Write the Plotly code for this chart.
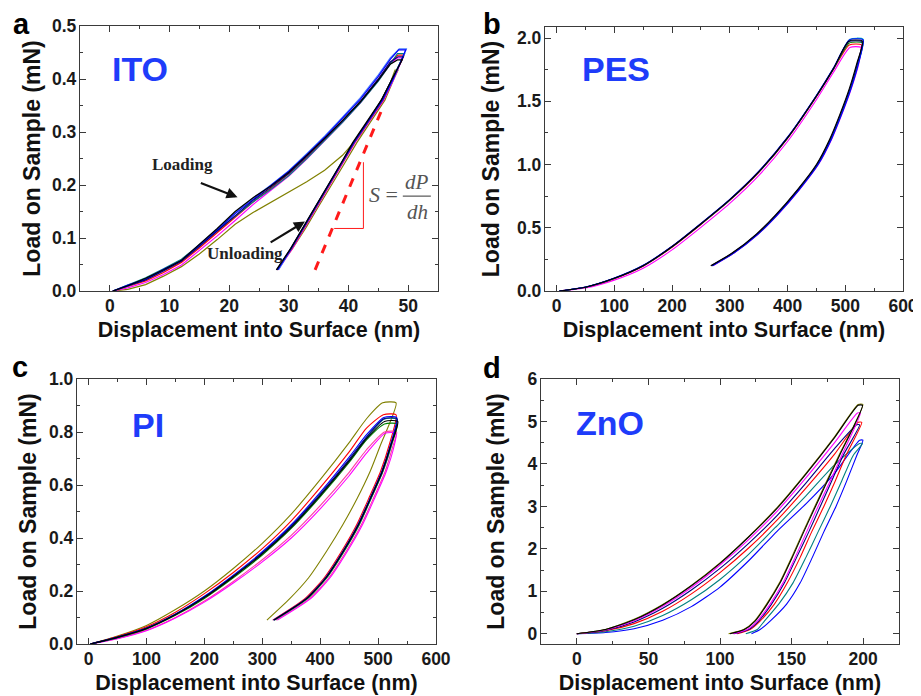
import plotly.graph_objects as go

# The page body keeps the browser's 8 px margin, so the figure is drawn 8 px in
# from the window corner; positions below are page pixels of the 921x696 window.
PAGE_W, PAGE_H = 921, 696
OFFSET = 8
W, H = PAGE_W - OFFSET, PAGE_H - OFFSET
SANS = "Liberation Sans, Arial, sans-serif"
SERIF = "Liberation Serif, 'Times New Roman', serif"
LABEL_BLUE = "#1e3cfa"
FRAME = "#3a3a3a"

COLORS = {
    "black": "#000000", "red": "#ff0000", "blue": "#0000ff", "magenta": "#ff00ff",
    "olive": "#808000", "navy": "#000080", "teal": "#008080", "lightblue": "#4a7fff",
    "cyan": "#00b0c0", "green": "#008000", "pink": "#ff3ca0",
}

# ---------------- panel a : ITO ----------------
ITO_NAMES = ["olive", "magenta", "red", "teal", "lightblue", "blue", "navy", "black"]
ITO_LOAD_X = [0.5, 3, 6, 9, 12, 15, 18, 21, 24, 27, 30, 33, 36, 39, 42, 45, 47]
ITO_LOAD_Y = [
    [0, 0.003, 0.012, 0.028, 0.046, 0.070, 0.097, 0.126, 0.148, 0.167, 0.187, 0.206, 0.228, 0.256, 0.295, 0.350, 0.393],
    [0, 0.006, 0.016, 0.031, 0.049, 0.076, 0.104, 0.133, 0.163, 0.190, 0.217, 0.249, 0.283, 0.318, 0.355, 0.397, 0.428],
    [0, 0.008, 0.019, 0.035, 0.054, 0.081, 0.110, 0.140, 0.168, 0.194, 0.221, 0.252, 0.286, 0.320, 0.357, 0.400, 0.431],
    [0, 0.012, 0.025, 0.042, 0.060, 0.087, 0.114, 0.142, 0.168, 0.192, 0.218, 0.250, 0.284, 0.318, 0.355, 0.396, 0.428],
    [0, 0.009, 0.022, 0.039, 0.058, 0.087, 0.117, 0.148, 0.175, 0.200, 0.227, 0.259, 0.292, 0.328, 0.365, 0.408, 0.440],
    [0, 0.011, 0.022, 0.041, 0.057, 0.086, 0.115, 0.146, 0.173, 0.199, 0.226, 0.257, 0.290, 0.326, 0.362, 0.405, 0.437],
    [0, 0.010, 0.021, 0.038, 0.056, 0.084, 0.113, 0.143, 0.171, 0.196, 0.222, 0.254, 0.287, 0.321, 0.358, 0.400, 0.432],
    [0, 0.010, 0.024, 0.040, 0.058, 0.088, 0.118, 0.150, 0.176, 0.198, 0.224, 0.256, 0.288, 0.322, 0.357, 0.398, 0.428],
]
ITO_PEAK_START = [47.8, 48.2, 48.3, 48.2, 48.5, 48.4, 48.3, 48.2]
ITO_PEAK_END = [48.3, 49.1, 49.3, 49.4, 49.7, 49.6, 49.2, 49.0]
ITO_PEAK_LOAD = [0.417, 0.440, 0.445, 0.448, 0.457, 0.455, 0.442, 0.436]
ITO_UNLOAD_Y = [0.40, 0.36, 0.32, 0.28, 0.24, 0.20, 0.16, 0.12, 0.08, 0.04]
ITO_UNLOAD_X = [
    [47.6, 46.1, 43.8, 41.4, 39.3, 37.1, 35.0, 32.9, 30.6, 28.0],
    [47.6, 45.9, 43.5, 41.1, 39.0, 36.9, 34.9, 32.8, 30.6, 28.2],
    [47.5, 45.8, 43.4, 41.0, 38.9, 36.8, 34.8, 32.7, 30.5, 28.1],
    [47.4, 45.6, 43.3, 40.9, 38.8, 36.7, 34.7, 32.6, 30.4, 28.2],
    [47.5, 45.7, 43.3, 40.9, 38.8, 36.7, 34.7, 32.6, 30.4, 28.3],
    [47.5, 45.7, 43.3, 40.9, 38.8, 36.7, 34.7, 32.6, 30.4, 28.1],
    [47.3, 45.5, 43.2, 40.8, 38.7, 36.6, 34.6, 32.5, 30.3, 28.0],
    [47.3, 45.5, 43.1, 40.7, 38.7, 36.6, 34.6, 32.5, 30.3, 27.9],
]
ITO_TANGENT_X = [34.4, 45.8]
ITO_TANGENT_Y = [0.04, 0.348]
ITO_TRIANGLE_X = [37.6, 42.5, 42.5]
ITO_TRIANGLE_Y = [0.118, 0.118, 0.243]
ITO_FRACTION_X = [49.1, 53.8]
ITO_FRACTION_Y = [0.179, 0.179]

# ---------------- panel b : PES ----------------
PES_NAMES = ["magenta", "red", "green", "cyan", "blue", "navy", "black"]
PES_LOAD_X = [5, 50, 100, 150, 200, 250, 300, 350, 400, 450, 480]
PES_LOAD_Y = [
    [0, 0.024, 0.086, 0.180, 0.325, 0.503, 0.692, 0.912, 1.182, 1.512, 1.732],
    [0, 0.029, 0.097, 0.196, 0.346, 0.526, 0.716, 0.936, 1.206, 1.536, 1.756],
    [0, 0.030, 0.099, 0.199, 0.349, 0.529, 0.719, 0.939, 1.209, 1.539, 1.759],
    [0, 0.030, 0.101, 0.201, 0.351, 0.531, 0.721, 0.941, 1.212, 1.542, 1.762],
    [0, 0.031, 0.102, 0.203, 0.354, 0.535, 0.725, 0.946, 1.216, 1.546, 1.766],
    [0, 0.030, 0.100, 0.200, 0.352, 0.532, 0.722, 0.943, 1.213, 1.543, 1.763],
    [0, 0.030, 0.100, 0.200, 0.350, 0.530, 0.720, 0.940, 1.210, 1.540, 1.760],
]
PES_PEAK_START = [508, 507, 507, 508, 507, 506, 506]
PES_PEAK_END = [527, 528, 530, 531, 531, 529, 530]
PES_PEAK_LOAD = [1.925, 1.945, 1.960, 1.990, 1.985, 1.970, 1.975]
PES_UNLOAD_Y = [1.80, 1.60, 1.40, 1.20, 1.00, 0.80, 0.60, 0.45, 0.30, 0.20]
PES_UNLOAD_X = [
    [523.5, 510.5, 494.5, 476.5, 453.5, 420.5, 382.5, 349.5, 307.5, 271],
    [521.5, 508.5, 492.5, 474.5, 451.5, 418.5, 380.5, 347.5, 305.5, 268.5],
    [522, 509, 493, 475, 452, 419, 381, 348, 306, 269],
    [522.5, 509.5, 493.5, 475.5, 452.5, 419.5, 381.5, 348.5, 306.5, 269.5],
    [523, 510, 494, 476, 453, 420, 382, 349, 307, 270],
    [521, 508, 492, 474, 451, 418, 380, 347, 305, 268],
    [520, 507, 491, 473, 450, 417, 379, 346, 304, 267],
]

# ---------------- panel c : PI ----------------
PI_NAMES = ["olive", "red", "pink", "magenta", "green", "teal", "blue", "navy", "black"]
PI_LOAD_X = [3, 50, 100, 150, 200, 250, 300, 350, 400, 450, 480]
PI_LOAD_Y = [
    [0, 0.030, 0.070, 0.130, 0.200, 0.285, 0.380, 0.490, 0.620, 0.760, 0.850],
    [0, 0.028, 0.065, 0.120, 0.190, 0.270, 0.360, 0.465, 0.590, 0.725, 0.815],
    [0, 0.021, 0.052, 0.100, 0.162, 0.236, 0.318, 0.410, 0.522, 0.648, 0.733],
    [0, 0.020, 0.050, 0.098, 0.158, 0.230, 0.310, 0.400, 0.510, 0.635, 0.720],
    [0, 0.024, 0.057, 0.108, 0.172, 0.250, 0.336, 0.436, 0.555, 0.685, 0.770],
    [0, 0.025, 0.059, 0.111, 0.176, 0.255, 0.341, 0.442, 0.562, 0.692, 0.778],
    [0, 0.026, 0.060, 0.113, 0.180, 0.260, 0.348, 0.450, 0.572, 0.705, 0.790],
    [0, 0.026, 0.060, 0.112, 0.178, 0.257, 0.344, 0.445, 0.566, 0.697, 0.782],
    [0, 0.025, 0.058, 0.110, 0.175, 0.254, 0.340, 0.440, 0.560, 0.690, 0.775],
]
PI_PEAK_START = [508, 509, 511, 512, 511, 510, 510, 510, 511]
PI_PEAK_END = [531, 531, 532, 531, 533, 532, 532, 533, 534]
PI_PEAK_LOAD = [0.910, 0.865, 0.800, 0.795, 0.830, 0.848, 0.855, 0.850, 0.840]
PI_UNLOAD_Y = [0.75, 0.65, 0.55, 0.45, 0.35, 0.25, 0.17, 0.09]
PI_UNLOAD_X = [
    [504, 486, 464, 439, 411, 380, 347, 308],
    [519, 504, 484, 463, 437, 407, 373, 318],
    [526, 512, 492, 471, 445, 415, 381, 324],
    [528, 514, 494, 473, 447, 417, 383, 326],
    [523, 508, 488, 467.5, 441.5, 411.5, 377.5, 321],
    [523, 508, 488, 467, 441, 411, 377, 321],
    [521, 506, 486, 465, 439, 409, 375, 319],
    [522, 507, 487, 466, 440, 410, 376, 320],
    [522, 507, 487, 466, 440, 410, 376, 320],
]

# ---------------- panel d : ZnO ----------------
ZNO_NAMES = ["blue", "teal", "red", "navy", "magenta", "olive", "black"]
ZNO_LOAD_X = [0, 20, 40, 60, 80, 100, 120, 140, 160, 180]
ZNO_LOAD_Y = [
    [0, 0.03, 0.12, 0.32, 0.64, 1.10, 1.72, 2.42, 3.06, 3.78],
    [0, 0.05, 0.18, 0.43, 0.80, 1.28, 1.87, 2.55, 3.25, 3.98],
    [0, 0.07, 0.24, 0.53, 0.94, 1.44, 2.02, 2.68, 3.43, 4.23],
    [0, 0.08, 0.28, 0.60, 1.03, 1.54, 2.13, 2.79, 3.55, 4.36],
    [0, 0.09, 0.31, 0.65, 1.09, 1.62, 2.22, 2.89, 3.67, 4.50],
    [0, 0.10, 0.34, 0.69, 1.14, 1.67, 2.29, 2.98, 3.78, 4.64],
    [0, 0.10, 0.33, 0.68, 1.13, 1.66, 2.28, 2.96, 3.76, 4.62],
]
ZNO_PEAK_START = [197.5, 197.5, 196.5, 195.5, 196.0, 196.5, 196.5]
ZNO_PEAK_END = [199.8, 199.5, 199.0, 197.5, 198.0, 199.8, 199.5]
ZNO_PEAK_LOAD = [4.56, 4.48, 4.98, 4.92, 5.20, 5.40, 5.38]
ZNO_UNLOAD_Y = [4.2, 3.6, 3.0, 2.4, 1.8, 1.2, 0.7, 0.3, 0.1, 0.0]
ZNO_UNLOAD_X = [
    [195.5, 188.5, 181, 172.5, 164.5, 156, 146.5, 135, 128, 122],
    [193, 185, 177, 168.5, 160, 151, 141, 131, 126, 118],
    [188, 180.5, 172.5, 164, 156, 147, 138, 128, 121, 112],
    [186, 178, 170, 162, 153.5, 145, 136, 127, 120, 110],
    [185, 177, 168.5, 160.5, 152.5, 144, 135, 126, 119, 109],
    [183, 174.5, 166.2, 158, 150, 141.5, 132.5, 124, 116.5, 106],
    [183.5, 175, 166.7, 158.5, 150.5, 142, 133, 124.5, 117, 107],
]

# ---------------- axes: ranges and ticks ----------------
ITO_XTICKS, ITO_XLABELS = [0, 10, 20, 30, 40, 50], ["0", "10", "20", "30", "40", "50"]
ITO_YTICKS, ITO_YLABELS = [0, 0.1, 0.2, 0.3, 0.4, 0.5], ["0.0", "0.1", "0.2", "0.3", "0.4", "0.5"]
PES_XTICKS, PES_XLABELS = [0, 100, 200, 300, 400, 500, 600], ["0", "100", "200", "300", "400", "500", "600"]
PES_YTICKS, PES_YLABELS = [0, 0.5, 1.0, 1.5, 2.0], ["0.0", "0.5", "1.0", "1.5", "2.0"]
PI_XTICKS, PI_XLABELS = [0, 100, 200, 300, 400, 500, 600], ["0", "100", "200", "300", "400", "500", "600"]
PI_YTICKS, PI_YLABELS = [0, 0.2, 0.4, 0.6, 0.8, 1.0], ["0.0", "0.2", "0.4", "0.6", "0.8", "1.0"]
ZNO_XTICKS, ZNO_XLABELS = [0, 50, 100, 150, 200], ["0", "50", "100", "150", "200"]
ZNO_YTICKS, ZNO_YLABELS = [0, 1, 2, 3, 4, 5, 6], ["0", "1", "2", "3", "4", "5", "6"]

# panel frames in page pixels: left, right, top, bottom
FRAMES = {
    "a": (80, 438, 26, 291),
    "b": (545, 903, 27, 291),
    "c": (77, 436, 379, 644),
    "d": (541, 899, 379, 644),
}


def add_curves(fig, axis, names, load_x, load_y, p0, p1, pk, unload_y, unload_x,
               width=1.1, shape="spline"):
    for i, name in enumerate(names):
        xs = list(load_x) + [p0[i], p1[i]] + list(unload_x[i])
        ys = list(load_y[i]) + [pk[i], pk[i]] + list(unload_y)
        fig.add_trace(go.Scatter(
            x=xs, y=ys, mode="lines", xaxis="x" + axis, yaxis="y" + axis,
            line=dict(color=COLORS[name], width=width, shape=shape, smoothing=0.6),
            showlegend=False, hoverinfo="skip",
        ))


fig = go.Figure()
add_curves(fig, "", ITO_NAMES, ITO_LOAD_X, ITO_LOAD_Y, ITO_PEAK_START, ITO_PEAK_END,
           ITO_PEAK_LOAD, ITO_UNLOAD_Y, ITO_UNLOAD_X, width=1.2, shape="linear")
add_curves(fig, "2", PES_NAMES, PES_LOAD_X, PES_LOAD_Y, PES_PEAK_START, PES_PEAK_END,
           PES_PEAK_LOAD, PES_UNLOAD_Y, PES_UNLOAD_X)
add_curves(fig, "3", PI_NAMES, PI_LOAD_X, PI_LOAD_Y, PI_PEAK_START, PI_PEAK_END,
           PI_PEAK_LOAD, PI_UNLOAD_Y, PI_UNLOAD_X)
add_curves(fig, "4", ZNO_NAMES, ZNO_LOAD_X, ZNO_LOAD_Y, ZNO_PEAK_START, ZNO_PEAK_END,
           ZNO_PEAK_LOAD, ZNO_UNLOAD_Y, ZNO_UNLOAD_X)

# stiffness construction on the ITO panel
fig.add_trace(go.Scatter(x=ITO_TANGENT_X, y=ITO_TANGENT_Y, mode="lines", showlegend=False,
                         line=dict(color="#ff1a1a", width=3, dash="dash"), hoverinfo="skip"))
fig.add_trace(go.Scatter(x=ITO_TRIANGLE_X, y=ITO_TRIANGLE_Y, mode="lines", showlegend=False,
                         line=dict(color="#ff1a1a", width=1), hoverinfo="skip"))
fig.add_trace(go.Scatter(x=ITO_FRACTION_X, y=ITO_FRACTION_Y, mode="lines", showlegend=False,
                         line=dict(color="#555555", width=1.2), hoverinfo="skip"))


def fx(px):
    return (px - OFFSET) / W


def fy(py):
    return 1 - (py - OFFSET) / H


def px_dom(frame):
    l, r, t, b = frame
    return [fx(l), fx(r)], [fy(b), fy(t)]


def axis_style(domain, rng, tickvals, ticktext, minor_dtick, title, title_size, standoff, anchor):
    return dict(
        domain=domain, range=rng, anchor=anchor, tickvals=tickvals, ticktext=ticktext,
        showline=True, mirror="allticks", linecolor=FRAME, linewidth=1.4,
        ticks="inside", ticklen=6, tickwidth=1.2, tickcolor=FRAME,
        minor=dict(ticks="inside", ticklen=3, tickwidth=1, tickcolor=FRAME,
                   dtick=minor_dtick, tick0=0, showgrid=False),
        showgrid=False, zeroline=False, automargin=False, ticklabelstandoff=-1,
        tickfont=dict(family=SANS, size=17.5, color="#1a1a1a", weight="bold"),
        title=dict(text=title, standoff=standoff,
                   font=dict(family=SANS, size=title_size, color="#111111", weight="bold")),
    )


XT = "Displacement into Surface (nm)"
YT = "Load on Sample (mN)"
layout_axes = {}
specs = [
    ("", "a", [-5, 55], [0, 0.5], ITO_XTICKS, ITO_XLABELS, ITO_YTICKS, ITO_YLABELS, 5, 0.05, 4),
    ("2", "b", [-20, 600], [0, 2.087], PES_XTICKS, PES_XLABELS, PES_YTICKS, PES_YLABELS, 50, 0.25, 10),
    ("3", "c", [-20, 600], [0, 1.0], PI_XTICKS, PI_XLABELS, PI_YTICKS, PI_YLABELS, 50, 0.1, 5),
    ("4", "d", [-25, 225], [-0.24, 6], ZNO_XTICKS, ZNO_XLABELS, ZNO_YTICKS, ZNO_YLABELS, 25, 0.5, 16),
]
for ax, key, xr, yr, xtv, xtt, ytv, ytt, xminor, yminor, ystand in specs:
    xd, yd = px_dom(FRAMES[key])
    layout_axes["xaxis" + ax] = axis_style(xd, xr, xtv, xtt, xminor, XT, 21.5, 6, "y" + ax)
    layout_axes["yaxis" + ax] = axis_style(yd, yr, ytv, ytt, yminor, YT, 23, ystand, "x" + ax)

annotations = []
# panel letters
for letter, (px, py) in {"a": (21, 24), "b": (492, 24), "c": (20, 367), "d": (492, 368)}.items():
    annotations.append(dict(text=letter, x=fx(px), y=fy(py), xref="paper", yref="paper",
                            showarrow=False, xanchor="center", yanchor="middle",
                            font=dict(family=SANS, size=29, color="#000000", weight="bold")))
# material names
for name, (px, py) in {"ITO": (139.5, 69.5), "PES": (616, 69.5), "PI": (148, 424.5),
                       "ZnO": (610, 423)}.items():
    annotations.append(dict(text=name, x=fx(px), y=fy(py), xref="paper", yref="paper",
                            showarrow=False, xanchor="center", yanchor="middle",
                            font=dict(family=SANS, size=34, color=LABEL_BLUE, weight="bold")))

# ITO panel text and arrows
serif_bold = dict(family=SERIF, size=17, color="#222222", weight="bold")
annotations += [
    dict(text="Loading", x=12.25, y=0.238, xref="x", yref="y", showarrow=False, font=serif_bold),
    dict(text="Unloading", x=22.7, y=0.071, xref="x", yref="y", showarrow=False, font=serif_bold),
    dict(text="", x=21.4, y=0.177, ax=15.0, ay=0.205, xref="x", yref="y", axref="x", ayref="y",
         showarrow=True, arrowhead=2, arrowsize=1, arrowwidth=2.2, arrowcolor="#111111"),
    dict(text="", x=32.7, y=0.131, ax=26.7, ay=0.090, xref="x", yref="y", axref="x", ayref="y",
         showarrow=True, arrowhead=2, arrowsize=1, arrowwidth=2.2, arrowcolor="#111111"),
    dict(text="<i>S</i> =", x=45.8, y=0.183, xref="x", yref="y", showarrow=False,
         font=dict(family=SERIF, size=22, color="#555555")),
    dict(text="<i>dP</i>", x=51.5, y=0.205, xref="x", yref="y", showarrow=False,
         font=dict(family=SERIF, size=21, color="#555555")),
    dict(text="<i>dh</i>", x=51.5, y=0.150, xref="x", yref="y", showarrow=False,
         font=dict(family=SERIF, size=21, color="#555555")),
]

fig.update_layout(
    width=W, height=H, template="none",
    paper_bgcolor="white", plot_bgcolor="white",
    margin=dict(l=0, r=0, t=0, b=0, autoexpand=False),
    showlegend=False, annotations=annotations,
    **layout_axes,
)

fig.write_html("out.html")
